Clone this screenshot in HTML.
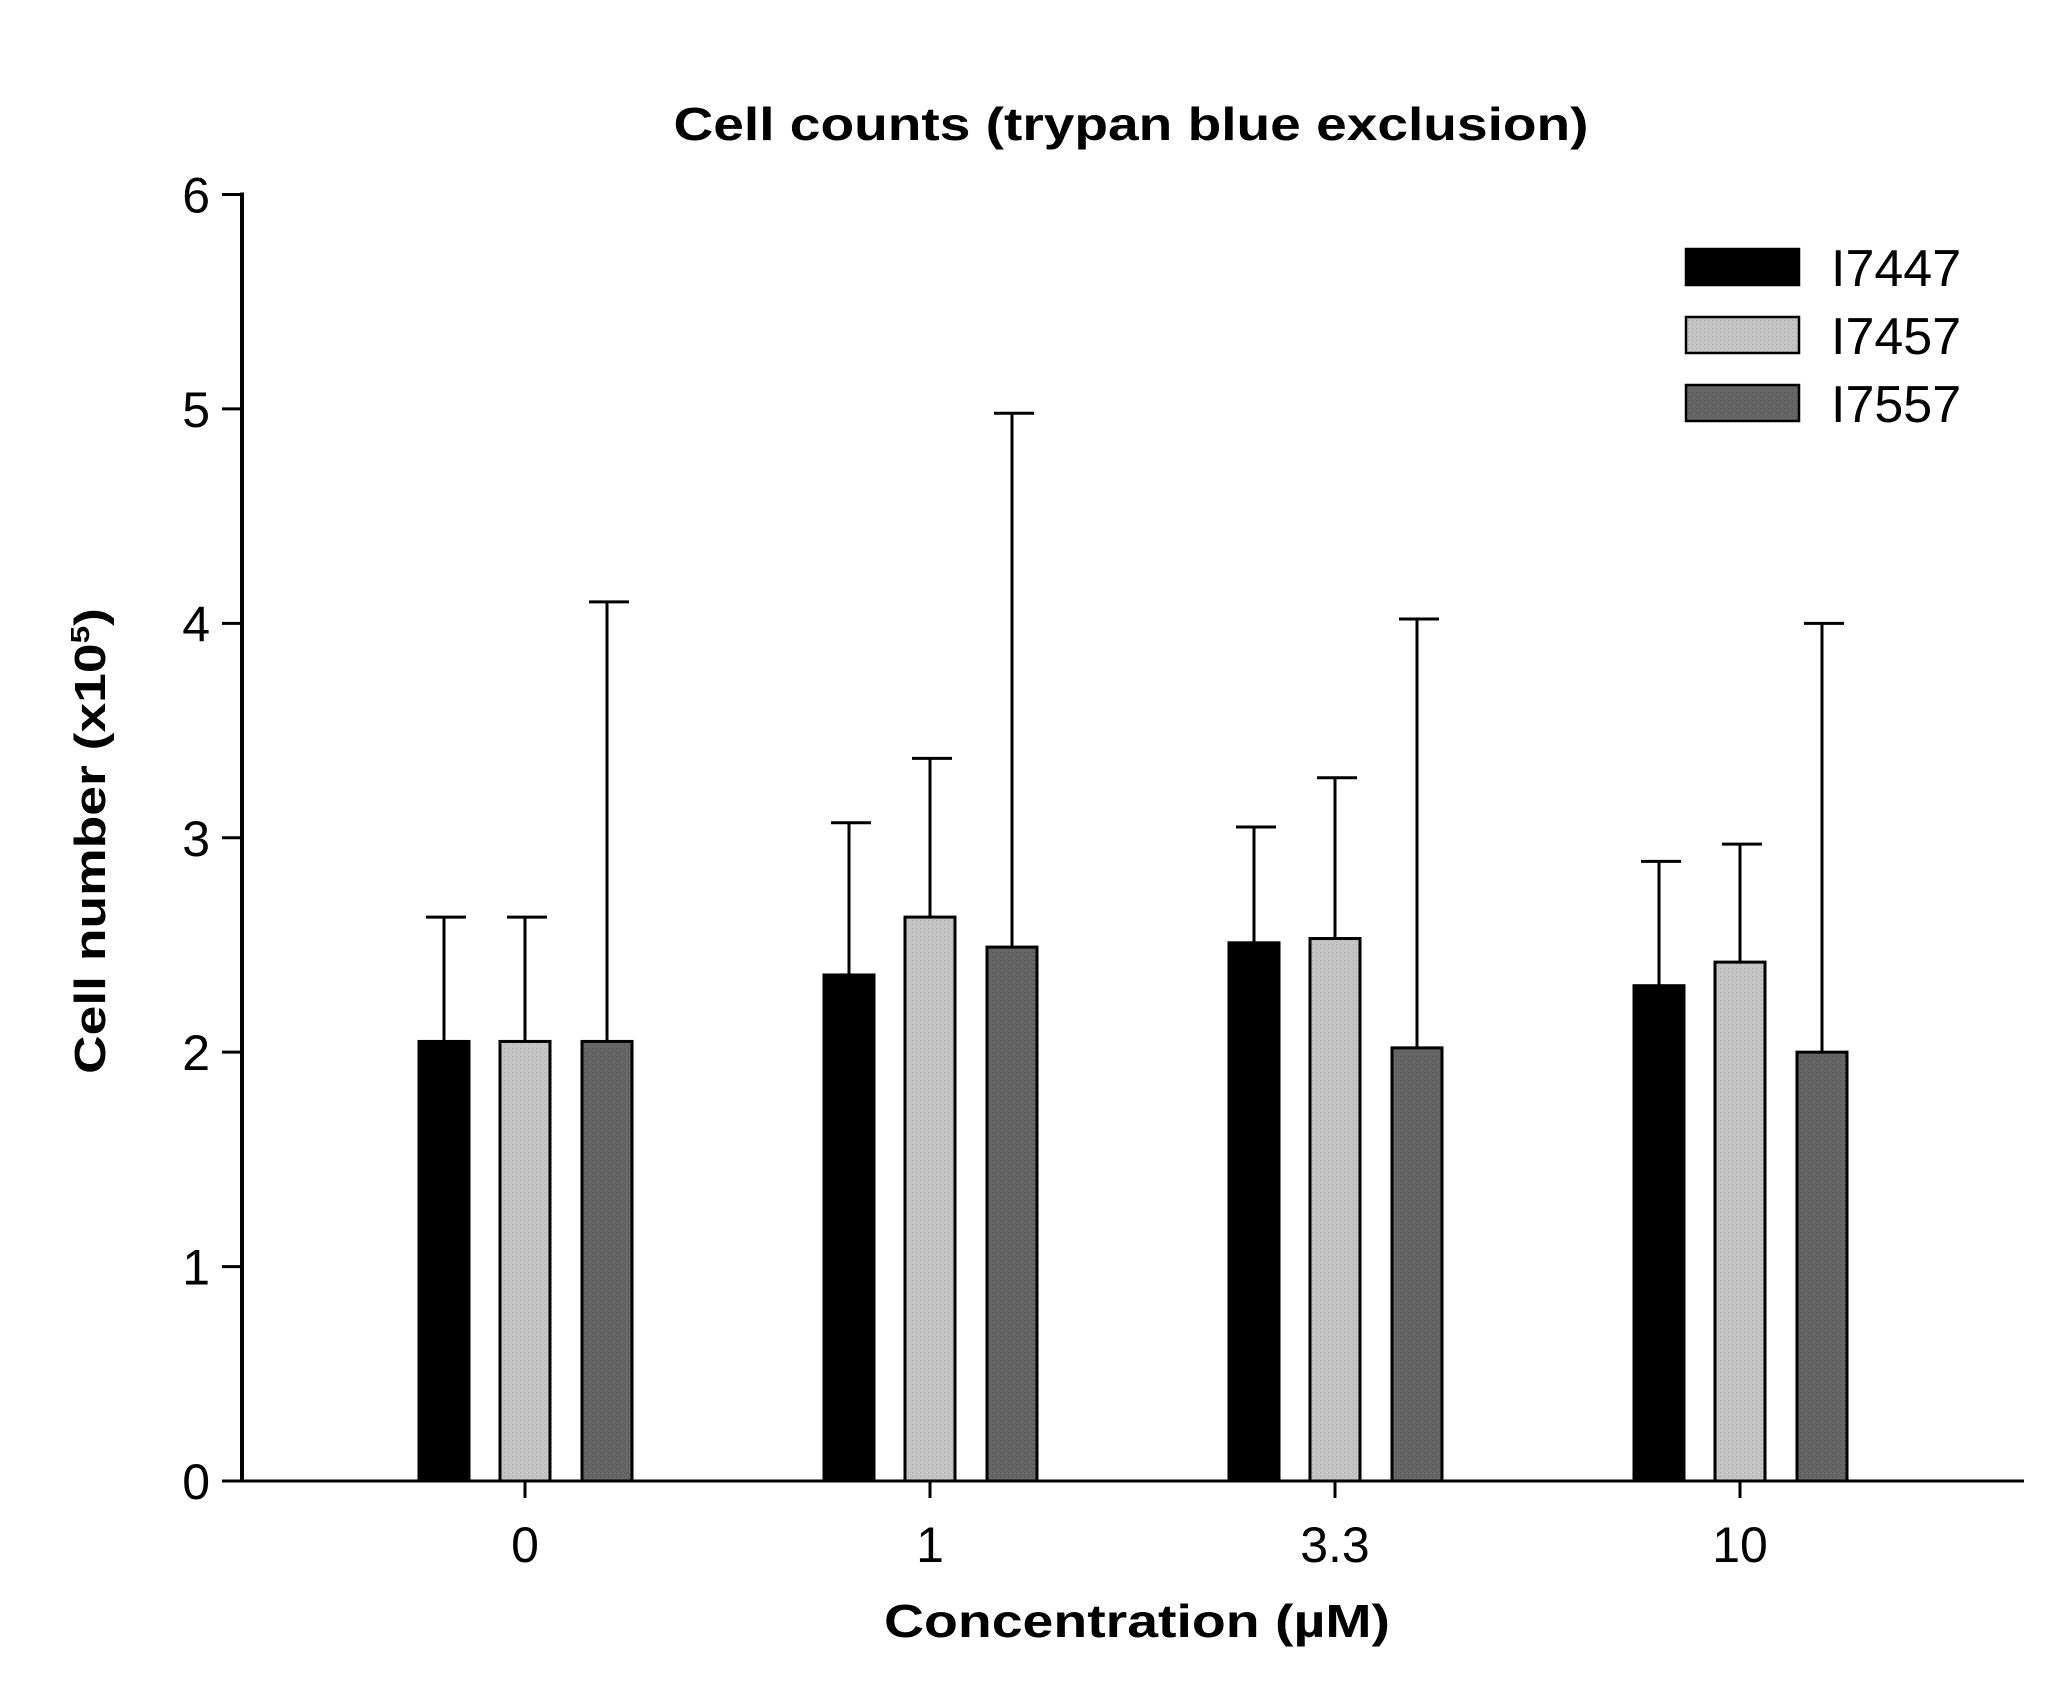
<!DOCTYPE html>
<html><head><meta charset="utf-8"><style>
html,body{margin:0;padding:0;background:#fff;}
svg{display:block;}
text{font-family:"Liberation Sans",Arial,sans-serif;fill:#000;}
</style></head><body>
<svg id="chart" width="2050" height="1689" viewBox="0 0 2050 1689">
<defs>
<pattern id="pl" width="4" height="4" patternUnits="userSpaceOnUse"><rect width="4" height="4" fill="#c4c4c4"/><rect width="1" height="1" fill="#b0b0b0"/></pattern>
<pattern id="pd" width="4" height="4" patternUnits="userSpaceOnUse"><rect width="4" height="4" fill="#666"/><rect width="1" height="1" fill="#555"/></pattern>
</defs>
<text x="1131" y="140" font-size="46" font-weight="bold" text-anchor="middle" textLength="915" lengthAdjust="spacingAndGlyphs">Cell counts (trypan blue exclusion)</text>
<text transform="translate(105,841) rotate(-90)" font-size="44" font-weight="bold" text-anchor="middle" textLength="466" lengthAdjust="spacingAndGlyphs">Cell number (x10<tspan font-size="26" dy="-16">5</tspan><tspan dy="16">)</tspan></text>
<text x="1137" y="1637" font-size="46" font-weight="bold" text-anchor="middle" textLength="506" lengthAdjust="spacingAndGlyphs">Concentration (µM)</text>
<g id="axes"></g>
<g id="bars"></g>
<g id="legend"></g>
</svg>
<script>
const categories = ["0", "1", "3.3", "10"];
const seriesNames = ["I7447", "I7457", "I7557"];
const s1 = [2.05, 2.36, 2.51, 2.31];
const s2 = [2.05, 2.63, 2.53, 2.42];
const s3 = [2.05, 2.49, 2.02, 2.00];
const e1 = [2.63, 3.07, 3.05, 2.89];
const e2 = [2.63, 3.37, 3.28, 2.97];
const e3 = [4.10, 4.98, 4.02, 4.00];
const yTicks = [0, 1, 2, 3, 4, 5, 6];

const NS = "http://www.w3.org/2000/svg";
const X0 = 242, XEND = 2024, Y0 = 1481, YTOP = 194.5, YMAX = 6;
const y = v => Y0 - (v / YMAX) * (Y0 - YTOP);
const gx = i => 525 + i * 405;
const fills = ["#000", "url(#pl)", "url(#pd)"];
const offs = [-81, 0, 82];
const BW = 50;
function mk(tag, attrs, parent) { const e = document.createElementNS(NS, tag); for (const k in attrs) e.setAttribute(k, attrs[k]); parent.appendChild(e); return e; }
const axes = document.getElementById("axes"), bars = document.getElementById("bars"), legend = document.getElementById("legend");

let el = mk("line", {x1: X0, y1: YTOP - 2, x2: X0, y2: Y0 + 1, stroke: "#000", "stroke-width": 4}, axes);


el = mk("line", {x1: X0 - 18, y1: Y0, x2: XEND, y2: Y0, stroke: "#000", "stroke-width": 3}, axes);


yTicks.forEach(t => {
  let l = mk("line", {x1: X0 - 20, y1: y(t), x2: X0, y2: y(t), stroke: "#000", "stroke-width": 3}, axes);
  
  
  let tx = mk("text", {x: 210, y: y(t) + 18, "font-size": 50, "text-anchor": "end"}, axes);
  tx.textContent = t;
  
  
});
categories.forEach((c, i) => {
  let l = mk("line", {x1: gx(i), y1: Y0, x2: gx(i), y2: Y0 + 17, stroke: "#000", "stroke-width": 3}, axes);
  
  
  let tx = mk("text", {x: gx(i), y: 1562, "font-size": 50, "text-anchor": "middle"}, axes);
  tx.textContent = c;
  
  
});
const vals = [s1, s2, s3], errs = [e1, e2, e3];
categories.forEach((c, i) => {
  vals.forEach((arr, s) => {
    const cx = gx(i) + offs[s];
    let eb = mk("line", {x1: cx, y1: y(errs[s][i]), x2: cx, y2: y(arr[i]), stroke: "#000", "stroke-width": 3}, bars);
    
    
    let cap = mk("line", {x1: cx - 18, y1: y(errs[s][i]), x2: cx + 22, y2: y(errs[s][i]), stroke: "#000", "stroke-width": 3}, bars);
    
    
    let r = mk("rect", {x: cx - BW / 2, y: y(arr[i]), width: BW, height: Y0 - y(arr[i]), fill: fills[s], stroke: "#000", "stroke-width": 3}, bars);
    
    
  });
});
seriesNames.forEach((n, s) => {
  const ly = 249 + s * 68;
  let r = mk("rect", {x: 1686, y: ly, width: 113, height: 36, fill: fills[s], stroke: "#000", "stroke-width": 2.5}, legend);
  
  
  let t = mk("text", {x: 1831, y: ly + 37, "font-size": 52}, legend);
  t.textContent = n;
  
  
});
</script>
</body></html>
